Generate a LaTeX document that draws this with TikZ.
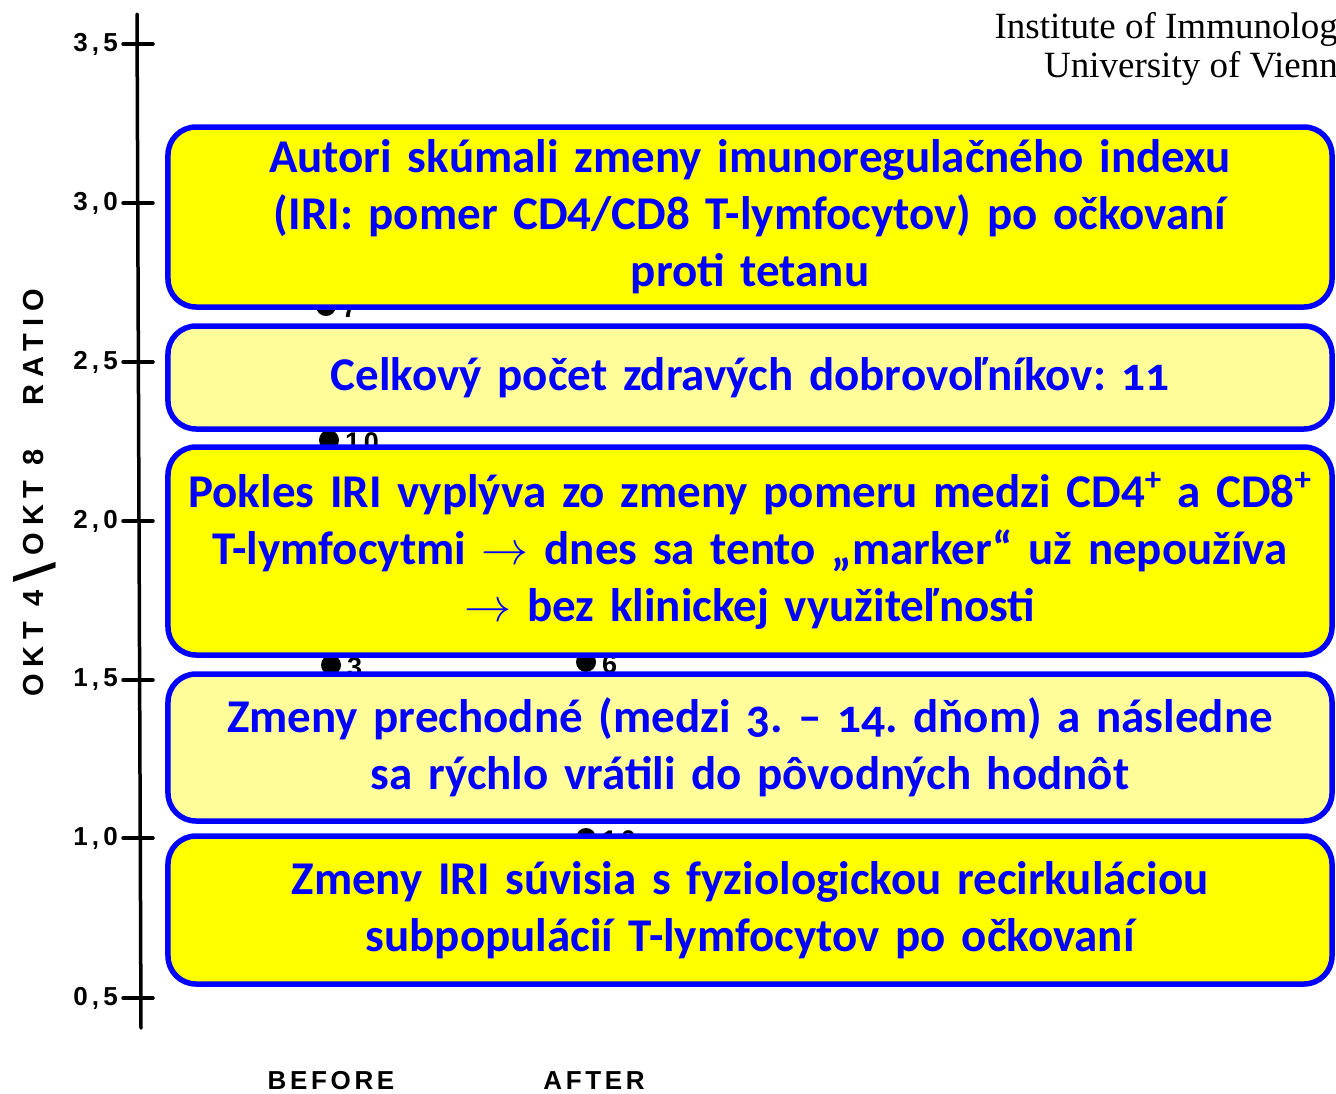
\documentclass[tikz,border=0pt]{standalone}
\usepackage{fix-cm}
\usepackage{fontspec}
\setmainfont{Carlito}
\newfontfamily\scanfont{Liberation Sans}[LetterSpace=24]
\newfontfamily\tickfont{Liberation Sans}[LetterSpace=16]
\newfontfamily\catfont{Liberation Sans}[LetterSpace=14]
\newfontfamily\headfont{Liberation Serif}
\definecolor{boxblue}{RGB}{0,0,255}
\definecolor{boxyel}{RGB}{255,255,0}
\definecolor{boxpale}{RGB}{255,252,154}
\tikzset{
  infobox/.style={draw=boxblue, line width=5.5bp, rounded corners=28bp, inner sep=0pt,
    minimum width=1164bp, text width=1160bp, align=center, text=boxblue,
    font=\fontsize{47bp}{57bp}\selectfont\bfseries\frenchspacing},
  ticklab/.style={anchor=east, font=\tickfont\bfseries\fontsize{26bp}{28bp}\selectfont, inner sep=0pt},
  axlab/.style={font=\scanfont\bfseries\fontsize{29bp}{31bp}\selectfont, inner sep=0pt},
  catlab/.style={font=\catfont\bfseries\fontsize{26bp}{28bp}\selectfont, inner sep=0pt},
  ptlab/.style={anchor=west, font=\catfont\bfseries\fontsize{27bp}{29bp}\selectfont, inner sep=0pt},
  axisline/.style={line width=3.5bp, line cap=round}
}
\begin{document}
\begin{tikzpicture}[x=1bp,y=-1bp]
\useasboundingbox (0,0) rectangle (1336,1093);
\fill[white] (0,0) rectangle (1336,1093);
% header
\node[anchor=north east, align=right, inner sep=0pt, font=\headfont\fontsize{37bp}{39bp}\selectfont] (head) at (1338,12)
  {Institute of Immunolog\\University of Vienn};
% axis
\coordinate (atop) at (137,14);
\coordinate (abot) at (141,1028);
\draw[axisline] (atop) -- (abot);
\foreach \v/\y [count=\i] in {{3,5}/44, {3,0}/203, {2,5}/362, {2,0}/521, {1,5}/680, {1,0}/838, {0,5}/998}{
  \coordinate (tl\i) at (123,\y);
  \coordinate (tr\i) at (153,\y);
  \draw[axisline] (tl\i) -- (tr\i);
  \node[ticklab] (lab\i) at (118,\y) {\v};
}
\node[axlab, rotate=90] (ylab) at (35,493)
  {OKT 4\hspace{8bp}\raisebox{-12bp}{\scalebox{2.5}[2.0]{\mdseries\textbackslash}}\hspace{7bp}OKT 8\hspace{44bp}RATIO};
\node[catlab] (before) at (331,1081) {BEFORE};
\node[catlab] (after) at (594,1081) {AFTER};
% data points (mostly hidden behind the boxes)
\fill (326,306) circle (10bp);
\node[ptlab] (p7) at (342,308) {7};
\fill (329,440) circle (10bp);
\node[ptlab] (p10a) at (345,442) {10};
\fill (331,665) circle (10bp);
\node[ptlab] (p3) at (347,667) {3};
\fill (586,662) circle (10bp);
\node[ptlab] (p6) at (602,664) {6};
\fill (586,838) circle (10bp);
\node[ptlab] (p10b) at (602,840) {10};
% boxes
\node[infobox, fill=boxyel, minimum height=180bp] (b1) at (750,217)
  {Autori skúmali zmeny imunoregulačného indexu\\(IRI: pomer CD4/CD8 T-lymfocytov) po očkovaní\\proti tetanu};
\node[infobox, fill=boxpale, minimum height=103bp] (b2) at (750,377.5)
  {Celkový počet zdravých dobrovoľníkov: {\addfontfeature{Numbers=OldStyle}11}};
\node[infobox, fill=boxyel, minimum height=208bp] (b3) at (750,551)
  {Pokles IRI vyplýva zo zmeny pomeru medzi CD4\textsuperscript{+} a CD8\textsuperscript{+}\\T-lymfocytmi $\rightarrow$ dnes sa tento „marker“ už nepoužíva\\$\rightarrow$ bez klinickej využiteľnosti};
\node[infobox, fill=boxpale, minimum height=147bp] (b4) at (750,747.5)
  {Zmeny prechodné (medzi {\addfontfeature{Numbers=OldStyle}3.} – {\addfontfeature{Numbers=OldStyle}14.} dňom) a následne\\sa rýchlo vrátili do pôvodných hodnôt};
\node[infobox, fill=boxyel, minimum height=148bp] (b5) at (750,910)
  {Zmeny IRI súvisia s fyziologickou recirkuláciou\\subpopulácií T-lymfocytov po očkovaní};
\end{tikzpicture}
\end{document}
